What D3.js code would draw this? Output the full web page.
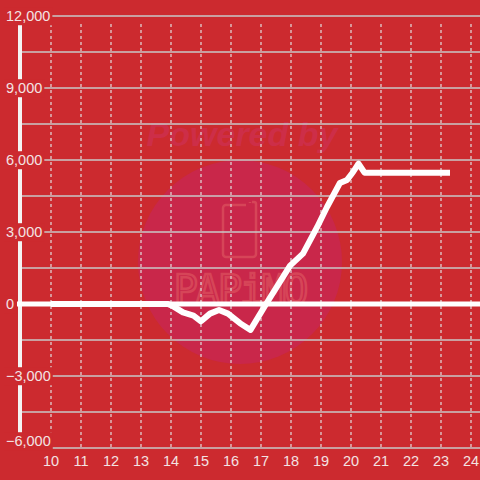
<!DOCTYPE html>
<html><head><meta charset="utf-8">
<script src="https://cdn.jsdelivr.net/npm/d3@7"></script>
<style>html,body{margin:0;padding:0;background:#cc2a2f;}svg{display:block;}</style>
</head><body>
<svg id="c" width="480" height="480"></svg>
<script>
const hours  = [10, 13.9, 14.05, 14.4, 14.75, 15.0, 15.3, 15.6, 15.9, 16.3, 16.65, 17.17, 17.97, 18.4, 18.87, 19.2, 19.63, 19.87, 20.07, 20.25, 20.45, 23.3];
const values = [0, 0, -80, -350, -480, -720, -400, -250, -400, -800, -1080, 0, 1600, 2100, 3200, 4040, 5040, 5170, 5500, 5850, 5470, 5470];
const xTicks = [10,11,12,13,14,15,16,17,18,19,20,21,22,23,24];
const yTicks = [12000, 9000, 6000, 3000, 0, -3000, -6000];
const yGrid  = [12000,10500,9000,7500,6000,4500,3000,1500,0,-1500,-3000,-4500,-6000];

const bg = "#cc2a2f";
const svg = d3.select("#c");
svg.append("rect").attr("width",480).attr("height",480).attr("fill",bg);

const x = d3.scaleLinear().domain([10,24]).range([51,471]);
const y = d3.scaleLinear().domain([-6000,12000]).range([448,16]);

// watermark
const wm = svg.append("g");
wm.append("circle").attr("cx",240).attr("cy",262).attr("r",102).attr("fill","#c9274a");
wm.append("text").attr("x",242).attr("y",146).attr("text-anchor","middle")
  .attr("font-family","Liberation Sans, Arial, sans-serif").attr("font-weight","bold").attr("font-style","italic")
  .attr("font-size",34).attr("fill","#cd2e48").text("Powered by");
wm.append("path").attr("d","M226,205 h20 M250,203 v-1 M252,202 h2 a2,2 0 0 1 2,2 v50 a3,3 0 0 1 -3,3 h-27 a3,3 0 0 1 -3,-3 v-46 a3,3 0 0 1 3,-3")
  .attr("fill","none").attr("stroke","#d64558").attr("stroke-width",2.5);
wm.append("text").attr("x",240).attr("y",304).attr("text-anchor","middle")
  .attr("font-family","DejaVu Sans Mono, monospace").attr("font-size",40).attr("letter-spacing",-2)
  .attr("fill","none").attr("stroke","#d64558").attr("stroke-width",2.5).text("PAPiMO");

// grid
svg.append("g").selectAll("line").data(yGrid).join("line")
  .attr("x1",20).attr("x2",480).attr("y1",d=>y(d)).attr("y2",d=>y(d))
  .attr("stroke","#c9c9c9").attr("stroke-width",1.5);
svg.append("g").selectAll("line").data(xTicks).join("line")
  .attr("x1",d=>x(d)).attr("x2",d=>x(d)).attr("y1",24).attr("y2",447)
  .attr("stroke","#e0e0e0").attr("stroke-width",1.2).attr("stroke-dasharray","3,3");

// axis
svg.append("line").attr("x1",20).attr("x2",20).attr("y1",16).attr("y2",448)
  .attr("stroke","#f4f4f4").attr("stroke-width",4);

// y labels with background
const fmt = d3.format(",");
const yl = svg.append("g").selectAll("g").data(yTicks).join("g")
  .attr("transform",d=>`translate(6,${Math.min(y(d),441)})`);
yl.append("text").attr("text-anchor","start").attr("dy","0.36em")
  .attr("font-family","Liberation Sans, Arial, sans-serif").attr("font-size",14.5)
  .attr("fill","#f3e3e3").text(d=>fmt(d));
yl.each(function(){
  const g=d3.select(this); const b=g.select("text").node().getBBox();
  g.insert("rect","text").attr("x",b.x-2).attr("y",b.y-1).attr("width",b.width+4).attr("height",b.height+2).attr("fill",bg);
});

// zero line
svg.append("line").attr("x1",17).attr("x2",480).attr("y1",y(0)).attr("y2",y(0))
  .attr("stroke","#ffffff").attr("stroke-width",5);

// x labels
svg.append("g").selectAll("text").data(xTicks).join("text")
  .attr("x",d=>x(d)).attr("y",461).attr("dy","0.36em").attr("text-anchor","middle")
  .attr("font-family","Liberation Sans, Arial, sans-serif").attr("font-size",14.5)
  .attr("fill","#f3e3e3").text(d=>d);

// data line
const line = d3.line().x((d,i)=>x(hours[i])).y(d=>y(d));
svg.append("path").datum(values).attr("d",line).attr("fill","none")
  .attr("stroke","#ffffff").attr("stroke-width",6).attr("stroke-linejoin","round");
</script>
</body></html>
